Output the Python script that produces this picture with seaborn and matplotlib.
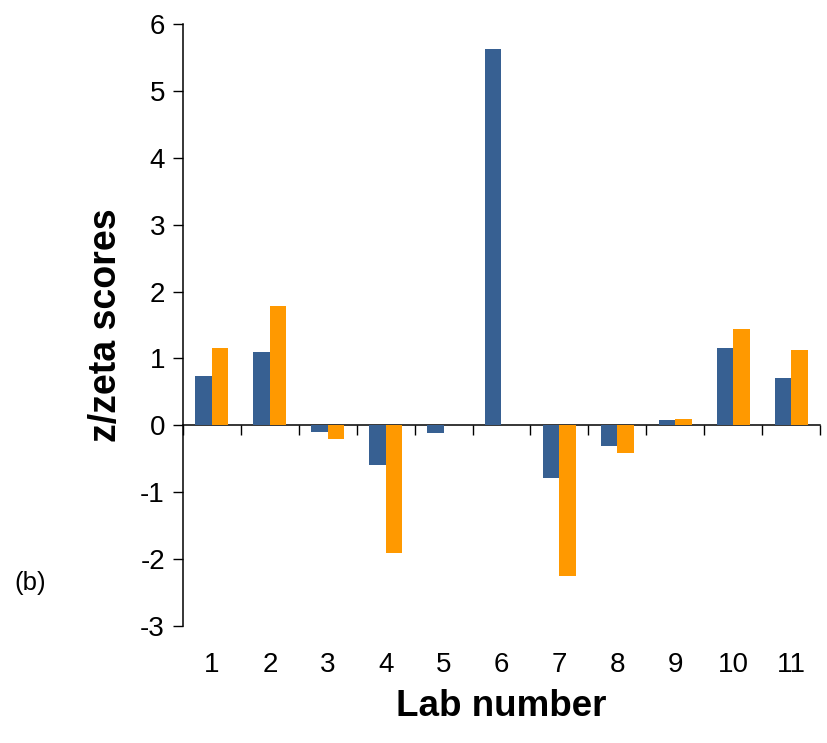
import pandas as pd
import matplotlib
matplotlib.use("Agg")
import matplotlib.pyplot as plt
import seaborn as sns

# lab scores
labs = ["1", "2", "3", "4", "5", "6", "7", "8", "9", "10", "11"]
z_scores = [0.73, 1.10, -0.10, -0.60, -0.12, 5.63, -0.79, -0.31, 0.08, 1.15, 0.71]
zeta_scores = [1.15, 1.79, -0.20, -1.91, 0.0, 0.0, -2.26, -0.42, 0.10, 1.44, 1.12]
series_names = ["z", "zeta"]
colors = ["#376092", "#FF9900"]
y_ticks = [-3, -2, -1, 0, 1, 2, 3, 4, 5, 6]

df = pd.DataFrame({
    "lab": labs * 2,
    "score": z_scores + zeta_scores,
    "series": [series_names[0]] * len(labs) + [series_names[1]] * len(labs),
})

sns.set_style("white")
plt.rcParams["font.family"] = ["Liberation Sans", "DejaVu Sans"]
plt.rcParams["axes.unicode_minus"] = False
plt.rcParams["text.color"] = "black"
plt.rcParams["xtick.color"] = "black"
plt.rcParams["ytick.color"] = "black"
plt.rcParams["axes.labelcolor"] = "black"

fig = plt.figure(figsize=(8.27, 7.43), dpi=100)
ax = fig.add_axes([0.2213, 0.1575, 0.7702, 0.8102])

sns.barplot(data=df, x="lab", y="score", hue="series", order=labs,
            hue_order=series_names, palette=colors, width=0.57, gap=0,
            saturation=1, linewidth=0, legend=False, ax=ax)

ax.set_xlim(-0.5, len(labs) - 0.5)
ax.set_ylim(y_ticks[0], y_ticks[-1])
ax.set_yticks(y_ticks)
ax.tick_params(axis="y", direction="out", length=7, width=1.0,
               labelsize=20, pad=6, left=True)
ax.tick_params(axis="x", length=0, labelsize=20, pad=19)

for side in ["top", "right", "bottom"]:
    ax.spines[side].set_visible(False)
ax.spines["left"].set_linewidth(1.1)
ax.spines["left"].set_color("black")

# category axis line crossing at zero, ticks between groups
zero_frac = (0 - y_ticks[0]) / (y_ticks[-1] - y_ticks[0])
sec = ax.secondary_xaxis(zero_frac)
sec.set_xticks([i - 0.5 for i in range(len(labs) + 1)])
sec.set_xticklabels([])
sec.tick_params(direction="out", length=7, width=1.0, color="black")
sec.spines["bottom"].set_linewidth(1.1)
sec.spines["bottom"].set_color("black")

ax.set_xlabel("Lab number", fontsize=26.5, fontweight="bold", labelpad=8)
ax.set_ylabel("z/zeta scores", fontsize=27, fontweight="bold", labelpad=12)

fig.text(30 / 827, 1 - 583 / 743, "(b)", fontsize=18.5, ha="center", va="center")

fig.savefig("out.png", dpi=100)
